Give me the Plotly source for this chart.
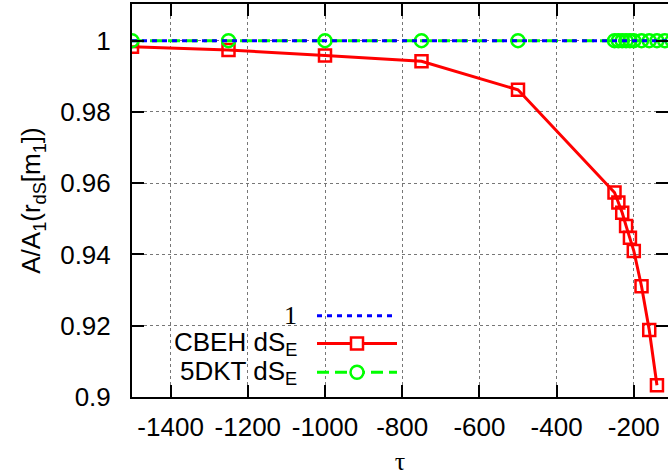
import plotly.graph_objects as go

# ---- data ----
cbeh_tau = [-1500, -1250, -1000, -750, -500, -250, -240, -230, -220, -210, -200, -180, -160, -140]
cbeh_val = [0.9983, 0.9974, 0.9958, 0.9942, 0.9862, 0.9574, 0.9546, 0.9517, 0.9480, 0.9447, 0.9410, 0.9311, 0.9188, 0.9033]
dkt_tau = [-1500, -1250, -1000, -750, -500, -250, -240, -230, -220, -210, -200, -180, -160, -140, -120, -100]
dkt_val = [1.0] * len(dkt_tau)
ref_tau = [-1500, -100]
ref_val = [1.0, 1.0]

x_ticks = [-1400, -1200, -1000, -800, -600, -400, -200]
x_ticktext = ["-1400", "-1200", "-1000", "-800", "-600", "-400", "-200"]
y_ticks = [0.9, 0.92, 0.94, 0.96, 0.98, 1.0]
y_ticktext = ["0.9", "0.92", "0.94", "0.96", "0.98", "1"]

legend_labels = ["1", "CBEH dS<sub>E</sub>", "5DKT dS<sub>E</sub>"]

# ---- geometry (pixels) ----
W, H = 668, 476
L, R, T, B = 132, 0, 4, 75
PW, PH = W - L - R, H - T - B
XR = [-1500, -1500 + PW / 0.386]
YR = [0.9, 0.9 + 0.02 * PH / 72.0]

def px(x):
    return (x - L) / PW

def py(y):
    return (H - B - y) / PH

SANS = "Liberation Sans, Arial, sans-serif"
SERIF = "Liberation Serif, Times New Roman, serif"
FS = 26

fig = go.Figure()
fig.add_trace(go.Scatter(x=ref_tau, y=ref_val, mode="lines", yaxis="y2",
                         line=dict(color="#0000ff", width=3, dash="5px,5px"),
                         showlegend=False, hoverinfo="skip"))
fig.add_trace(go.Scatter(x=cbeh_tau, y=cbeh_val, mode="lines+markers",
                         line=dict(color="#ff0000", width=3),
                         marker=dict(symbol="square-open", size=12, color="#ff0000",
                                     line=dict(width=2.5, color="#ff0000")),
                         showlegend=False))
fig.add_trace(go.Scatter(x=dkt_tau, y=dkt_val, mode="lines+markers",
                         line=dict(color="#00ff00", width=3, dash="12px,6px"),
                         marker=dict(symbol="circle-open", size=13, color="#00ff00",
                                     line=dict(width=2.5, color="#00ff00")),
                         showlegend=False))

axis_common = dict(ticks="inside", ticklen=12, tickwidth=2, tickcolor="black",
                   tickfont=dict(family=SANS, size=FS, color="black"),
                   zeroline=False)

fig.update_layout(
    width=W, height=H,
    margin=dict(l=L, r=R, t=T, b=B, pad=0),
    paper_bgcolor="white", plot_bgcolor="white",
    showlegend=False,
    xaxis=dict(range=XR, tickvals=x_ticks, ticktext=x_ticktext,
               showline=True, linecolor="black", linewidth=2, mirror="ticks",
               showgrid=True, gridcolor="#777777", gridwidth=1, griddash="dot",
               ticklabelstandoff=6,
               title=dict(text="τ", font=dict(family=SERIF, size=FS, color="black"), standoff=16),
               **axis_common),
    yaxis=dict(range=YR, tickvals=y_ticks, ticktext=y_ticktext,
               showline=True, linecolor="black", linewidth=2, mirror=False,
               showgrid=True, gridcolor="#777777", gridwidth=1, griddash="dot",
               ticklabelstandoff=14,
               title=dict(text="A/A<sub>1</sub>(r<sub>dS</sub>[m<sub>1</sub>])",
                          font=dict(family=SANS, size=FS, color="black"), standoff=12),
               **axis_common),
    yaxis2=dict(range=YR, tickvals=y_ticks, overlaying="y", side="right",
                showticklabels=False, showline=False, showgrid=False,
                ticks="inside", ticklen=12, tickwidth=2, tickcolor="black", zeroline=False),
)

# legend box (opaque, covers grid)
fig.add_shape(type="rect", xref="paper", yref="paper",
              x0=px(L + 1), x1=px(402), y0=py(H - B - 1), y1=py(304),
              fillcolor="white", line=dict(width=0), layer="between")

rows_y = [319, 347, 376]
fonts = [SERIF, SANS, SANS]
for lab, yy, fam in zip(legend_labels, rows_y, fonts):
    fig.add_annotation(xref="paper", yref="paper", x=px(299), y=py(yy),
                       text=lab, showarrow=False, xanchor="right", yanchor="middle",
                       font=dict(family=fam, size=FS, color="black"))

# legend samples
fig.add_shape(type="line", xref="paper", yref="paper", x0=px(317), x1=px(397),
              y0=py(rows_y[0]), y1=py(rows_y[0]),
              line=dict(color="#0000ff", width=3, dash="5px,5px"))
fig.add_shape(type="line", xref="paper", yref="paper", x0=px(317), x1=px(397),
              y0=py(rows_y[1]), y1=py(rows_y[1]),
              line=dict(color="#ff0000", width=3))
fig.add_shape(type="rect", xref="paper", yref="paper", xsizemode="pixel", ysizemode="pixel",
              xanchor=px(357), yanchor=py(rows_y[1]), x0=-6, x1=6, y0=-6, y1=6,
              fillcolor="white", line=dict(color="#ff0000", width=2.5))
fig.add_shape(type="line", xref="paper", yref="paper", x0=px(317), x1=px(397),
              y0=py(rows_y[2]), y1=py(rows_y[2]),
              line=dict(color="#00ff00", width=3, dash="12px,6px"))
fig.add_shape(type="circle", xref="paper", yref="paper", xsizemode="pixel", ysizemode="pixel",
              xanchor=px(357), yanchor=py(rows_y[2]), x0=-6.5, x1=6.5, y0=-6.5, y1=6.5,
              fillcolor="white", line=dict(color="#00ff00", width=2.5))

fig.write_html("out.html", config={"displayModeBar": False},
               post_script="document.body.style.margin='0px';document.body.style.overflow='hidden';")
